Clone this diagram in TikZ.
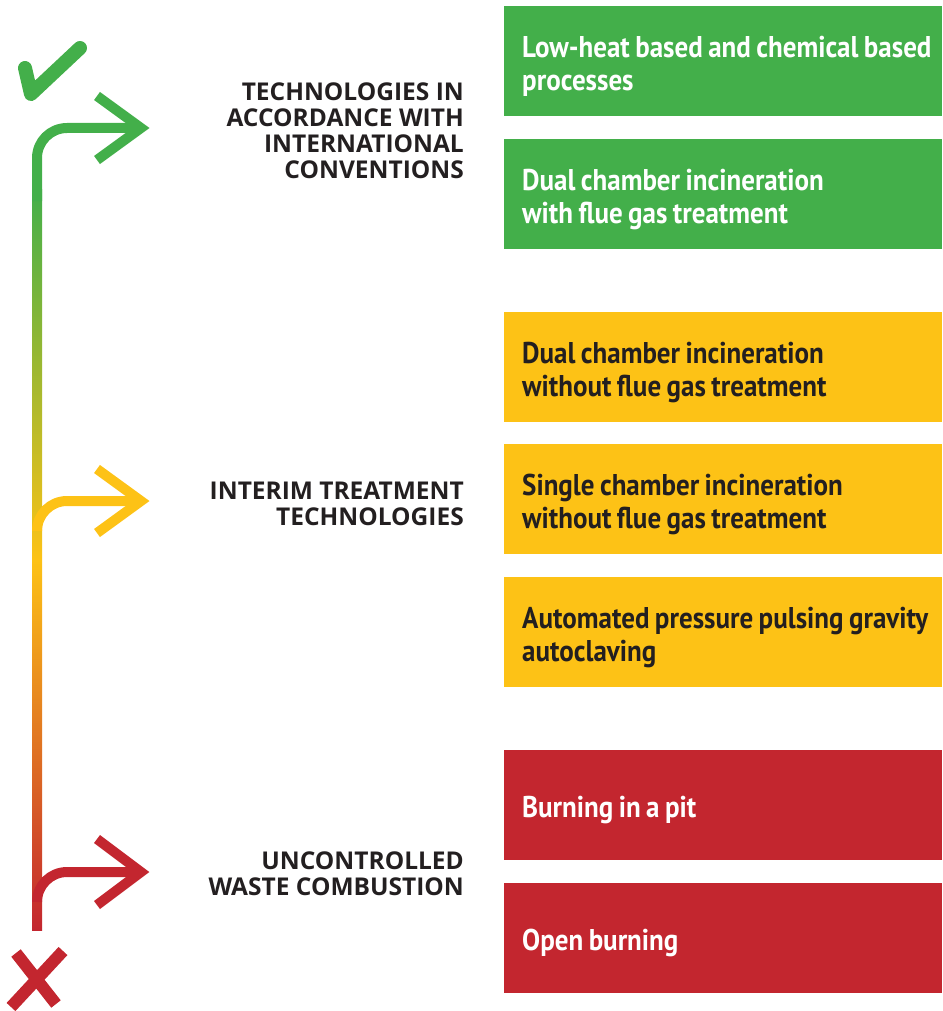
\documentclass[tikz,border=0pt]{standalone}
\usepackage{fontspec}
\setmainfont{PT Sans}
\newfontfamily\boxfont[FakeStretch=0.9, WordSpace=0.8]{PT Sans}
\newfontfamily\headfont{Open Sans}
\usetikzlibrary{calc}

\definecolor{okgreen}{HTML}{43AF4A}
\definecolor{midyellow}{HTML}{FDC216}
\definecolor{badred}{HTML}{C3262F}
\definecolor{inkgrey}{HTML}{231F20}

\tikzset{
  option/.style={anchor=north west, minimum width=438pt, minimum height=110pt, inner sep=0pt},
  optiontext/.style={anchor=west, align=left, inner sep=0pt, xshift=18pt, yshift=-5pt,
    font=\boxfont\bfseries\fontsize{30}{33}\selectfont},
  head/.style={anchor=east, align=right, text=inkgrey, inner sep=0pt,
    font=\headfont\bfseries\fontsize{24.5}{26}\selectfont},
  branch/.style={line width=10pt},
  chevron/.style={line width=10pt, miter limit=10}
}

\begin{document}
\begin{tikzpicture}[x=1pt, y=-1pt]
\useasboundingbox (0,0) rectangle (942,1011);

% Boxes on the right
\node[option, fill=okgreen] (lowheat) at (504,6) {};
\node[option, fill=okgreen] (dualwith) at (504,139) {};
\node[option, fill=midyellow] (dualwithout) at (504,312) {};
\node[option, fill=midyellow] (single) at (504,444) {};
\node[option, fill=midyellow] (autoclave) at (504,577) {};
\node[option, fill=badred] (pit) at (504,750) {};
\node[option, fill=badred] (open) at (504,883) {};

% Texts in the boxes
\node[optiontext, text=white] (lowheattext) at (lowheat.west) {Low-heat based and chemical based\\processes};
\node[optiontext, text=white] (dualwithtext) at (dualwith.west) {Dual chamber incineration\\with flue gas treatment};
\node[optiontext, text=inkgrey] (dualwithouttext) at (dualwithout.west) {Dual chamber incineration\\without flue gas treatment};
\node[optiontext, text=inkgrey] (singletext) at (single.west) {Single chamber incineration\\without flue gas treatment};
\node[optiontext, text=inkgrey] (autoclavetext) at (autoclave.west) {Automated pressure pulsing gravity\\autoclaving};
\node[optiontext, text=white] (pittext) at (pit.west) {Burning in a pit};
\node[optiontext, text=white] (opentext) at (open.west) {Open burning};

% Headings
\node[head] (good) at (464,131) {TECHNOLOGIES IN\\ACCORDANCE WITH\\INTERNATIONAL\\CONVENTIONS};
\node[head] (interim) at (464,504) {INTERIM TREATMENT\\TECHNOLOGIES};
\node[head] (bad) at (464,874) {UNCONTROLLED\\WASTE COMBUSTION};

% Tips of the three arrows
\coordinate (goodtip) at (141,128);
\coordinate (interimtip) at (141,501);
\coordinate (badtip) at (141,872);

% Scale line
\shade[top color=okgreen, bottom color=badred, middle color=midyellow] (32,190) rectangle (42,930);
\draw[branch, okgreen] (37,201) -- (37,158) arc[start angle=180, end angle=270, radius=30] -- (goodtip);
\draw[branch, midyellow] (37,531) arc[start angle=180, end angle=270, radius=30] -- (interimtip);
\draw[branch, badred] (37,902) arc[start angle=180, end angle=270, radius=30] -- (badtip);

% Arrow heads
\draw[chevron, okgreen] ($(goodtip)+(-44,-32)$) -- (goodtip) -- ($(goodtip)+(-44,32)$);
\draw[chevron, midyellow] ($(interimtip)+(-44,-32)$) -- (interimtip) -- ($(interimtip)+(-44,32)$);
\draw[chevron, badred] ($(badtip)+(-44,-33)$) -- (badtip) -- ($(badtip)+(-44,33)$);

% Tick and cross
\draw[okgreen, line width=14pt, line cap=round, line join=round] (25,68) -- (31,94) -- (80,48);
\draw[badred, line width=12pt] (16,953) -- (56,1004);
\draw[badred, line width=12pt] (63,951) -- (11,1007);

\end{tikzpicture}
\end{document}
